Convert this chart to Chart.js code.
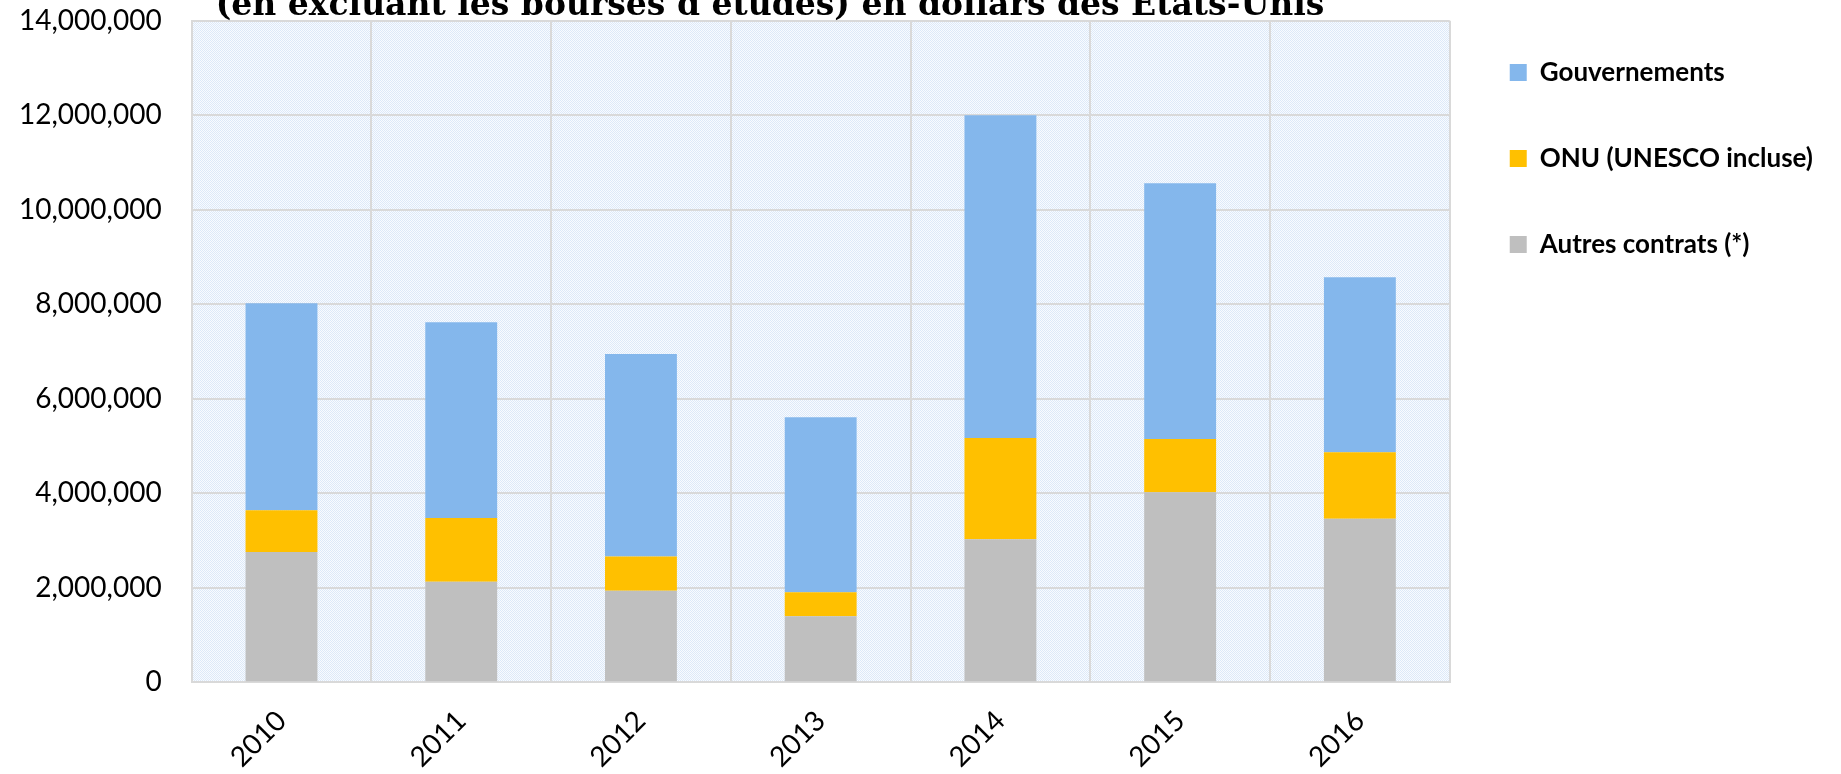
<!DOCTYPE html>
<html>
<head>
<meta charset="utf-8">
<script src="https://cdn.jsdelivr.net/npm/chart.js@4"></script>
<style>
    html, body { margin: 0; padding: 0; background: #fff; }
    #wrap { width: 1841px; height: 774px; }
</style>
</head>
<body>
<div id="wrap"><canvas id="chart"></canvas></div>
<script>
const years = ['2010', '2011', '2012', '2013', '2014', '2015', '2016'];
const autresContrats = [2760000, 2130000, 1940000, 1400000, 3030000, 4020000, 3460000];
const onu = [880000, 1350000, 720000, 505000, 2140000, 1130000, 1410000];
const gouvernements = [4380000, 4140000, 4290000, 3705000, 6830000, 5410000, 3700000];
const seriesNames = ['Autres contrats (*)', 'ONU (UNESCO incluse)', 'Gouvernements'];
const titleText = '(en excluant les bourses d\u2019études) en dollars des États-Unis';

const gridColor = '#d9d9d9';
const labelFont = 'Lato, "Noto Sans", sans-serif';

function makePattern(ctx) {
    const tile = document.createElement('canvas');
    tile.width = 2;
    tile.height = 2;
    const t = tile.getContext('2d');
    t.fillStyle = '#f8fbff';
    t.fillRect(0, 0, 2, 2);
    t.fillStyle = '#dde9f8';
    t.fillRect(0, 0, 1, 1);
    t.fillRect(1, 1, 1, 1);
    return ctx.createPattern(tile, 'repeat');
}

const plotBackground = {
    id: 'plotBackground',
    beforeDraw(chart) {
        const {ctx, chartArea} = chart;
        ctx.save();
        ctx.fillStyle = makePattern(ctx);
        ctx.fillRect(chartArea.left, chartArea.top, chartArea.right - chartArea.left, chartArea.bottom - chartArea.top);
        ctx.restore();
    }
};

// the title's first line is cut off in the source, only the second line shows
const cutTitle = {
    id: 'cutTitle',
    afterDraw(chart) {
        const ctx = chart.ctx;
        ctx.save();
        ctx.font = 'bold 33px "DejaVu Serif", serif';
        ctx.fillStyle = '#000';
        ctx.textAlign = 'center';
        ctx.textBaseline = 'alphabetic';
        ctx.fillText(titleText, 770, 15);
        ctx.restore();
    }
};

new Chart(document.getElementById('chart'), {
    type: 'bar',
    data: {
        labels: years,
        datasets: [
            { label: seriesNames[0], data: autresContrats, backgroundColor: '#bfbfbf' },
            { label: seriesNames[1], data: onu, backgroundColor: '#ffc000' },
            { label: seriesNames[2], data: gouvernements, backgroundColor: '#84b7ec' },
        ].map((ds) => ({ ...ds, barPercentage: 0.4, categoryPercentage: 1, borderWidth: 0 })),
    },
    options: {
        responsive: true,
        maintainAspectRatio: false,
        animation: false,
        layout: {
            // negative values pull the plot out to where the source has it
            padding: { left: 15, top: -22, right: 18, bottom: -22 },
        },
        scales: {
            x: {
                stacked: true,
                grid: { color: gridColor, lineWidth: 2, drawTicks: false, offset: true },
                border: { color: gridColor, width: 2 },
                ticks: {
                    color: '#000',
                    font: { family: labelFont, size: 28 },
                    minRotation: 45,
                    maxRotation: 45,
                    padding: 22,
                },
            },
            y: {
                stacked: true,
                min: 0,
                max: 14000000,
                // invisible tick marks keep the labels off the axis without padding the top
                grid: { color: gridColor, lineWidth: 2, drawTicks: true, tickLength: 26, tickColor: 'rgba(0,0,0,0)' },
                border: { color: gridColor, width: 2 },
                ticks: {
                    stepSize: 2000000,
                    color: '#000',
                    font: { family: labelFont, size: 28 },
                    padding: 4,
                    callback: (value) => value.toLocaleString('en-US'),
                },
            },
        },
        plugins: {
            title: { display: false },
            tooltip: { enabled: false },
            legend: {
                position: 'right',
                align: 'start',
                reverse: true,
                // empty title only used as a spacer above the items
                title: { display: true, text: ' ', padding: 0, font: { size: 16, lineHeight: 1.35 } },
                labels: {
                    boxWidth: 17,
                    boxHeight: 17,
                    padding: 60,
                    color: '#000',
                    font: { family: labelFont, size: 26, weight: 'bold' },
                },
            },
        },
    },
    plugins: [plotBackground, cutTitle],
});
</script>
</body>
</html>
